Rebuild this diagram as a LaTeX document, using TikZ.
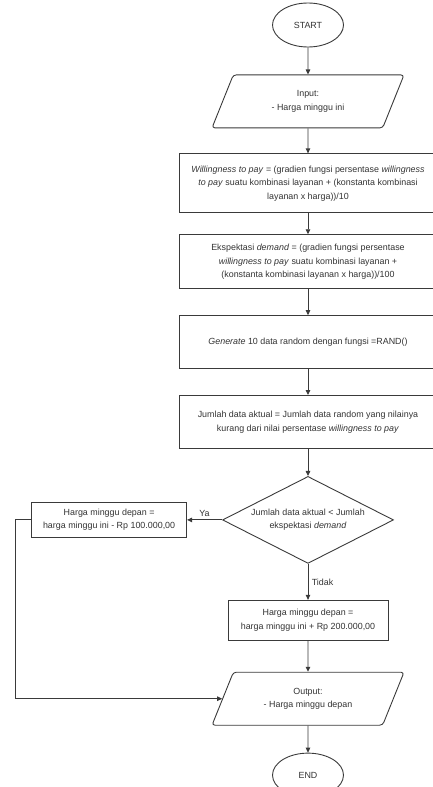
\documentclass[tikz,border=0pt]{standalone}
\usepackage{fontspec}
\setmainfont{Liberation Sans}
\usetikzlibrary{arrows.meta, positioning, shapes.geometric}
\definecolor{linegray}{HTML}{3A3A3A}
\definecolor{textgray}{HTML}{333333}
\tikzset{
    base style/.style={draw=linegray, line width=0.9pt, text=textgray, align=center, font=\fontsize{8.9}{13.4}\selectfont, inner sep=2pt},
    terminal style/.style={base style, ellipse, minimum width=71pt, minimum height=44pt},
    io style/.style={base style, trapezium, trapezium left angle=50, trapezium right angle=130, trapezium stretches body, rounded corners=3pt, minimum width=192pt, minimum height=53pt},
    process style/.style={base style, rectangle, minimum width=258pt},
    decision style/.style={base style, diamond, aspect=2, inner sep=0pt, minimum width=171pt, minimum height=87pt},
    arrow style/.style={-{Triangle[length=5pt,width=4.5pt]}, draw=linegray, line width=0.9pt},
    label style/.style={text=textgray, font=\fontsize{8.9}{13.4}\selectfont},
}

\begin{document}
\begin{tikzpicture}[x=1pt, y=-1pt]
        \useasboundingbox (0,0) rectangle (432,787);
        \node (start) [terminal style] at (308,25) {START};
        \node (input) [io style, below=27pt of start] {Input:\\ - Harga minggu ini};
        \node (wtp) [process style, minimum height=59pt, below=25pt of input] {\textit{Willingness to pay} = (gradien fungsi persentase \textit{willingness}\\ \textit{to pay} suatu kombinasi layanan + (konstanta kombinasi\\ layanan x harga))/10};
        \node (demand) [process style, minimum height=54pt, below=21pt of wtp] {Ekspektasi \textit{demand} = (gradien fungsi persentase\\ \textit{willingness to pay} suatu kombinasi layanan +\\ (konstanta kombinasi layanan x harga))/100};
        \node (random) [process style, minimum height=53pt, below=26pt of demand] {\textit{Generate} 10 data random dengan fungsi =RAND()};
        \node (aktual) [process style, minimum height=53pt, below=26pt of random] {Jumlah data aktual = Jumlah data random yang nilainya\\ kurang dari nilai persentase \textit{willingness to pay}};
        \node (decision) [decision style, below=27pt of aktual] {Jumlah data aktual < Jumlah\\ ekspektasi \textit{demand}};
        \node (turun) [base style, rectangle, minimum width=155pt, minimum height=35pt, left=35pt of decision] {Harga minggu depan =\\ harga minggu ini - Rp 100.000,00};
        \node (naik) [base style, rectangle, minimum width=160pt, minimum height=40pt, below=36pt of decision] {Harga minggu depan =\\ harga minggu ini + Rp 200.000,00};
        \node (output) [io style, below=31pt of naik] {Output:\\ - Harga minggu depan};
        \node (stop) [terminal style, below=27pt of output] {END};

        \draw [arrow style] (start) -- (input);
        \draw [arrow style] (input) -- (wtp);
        \draw [arrow style] (wtp) -- (demand);
        \draw [arrow style] (demand) -- (random);
        \draw [arrow style] (random) -- (aktual);
        \draw [arrow style] (aktual) -- (decision);
        \draw [arrow style] (decision) -- node[label style, above] {Ya} (turun);
        \draw [arrow style] (decision) -- node[label style, right] {Tidak} (naik);
        \draw [arrow style] (naik) -- (output);
        \draw [arrow style] (turun.west) -- ++(-16,0) |- (output.west);
        \draw [arrow style] (output) -- (stop);
    \end{tikzpicture}
\end{document}
